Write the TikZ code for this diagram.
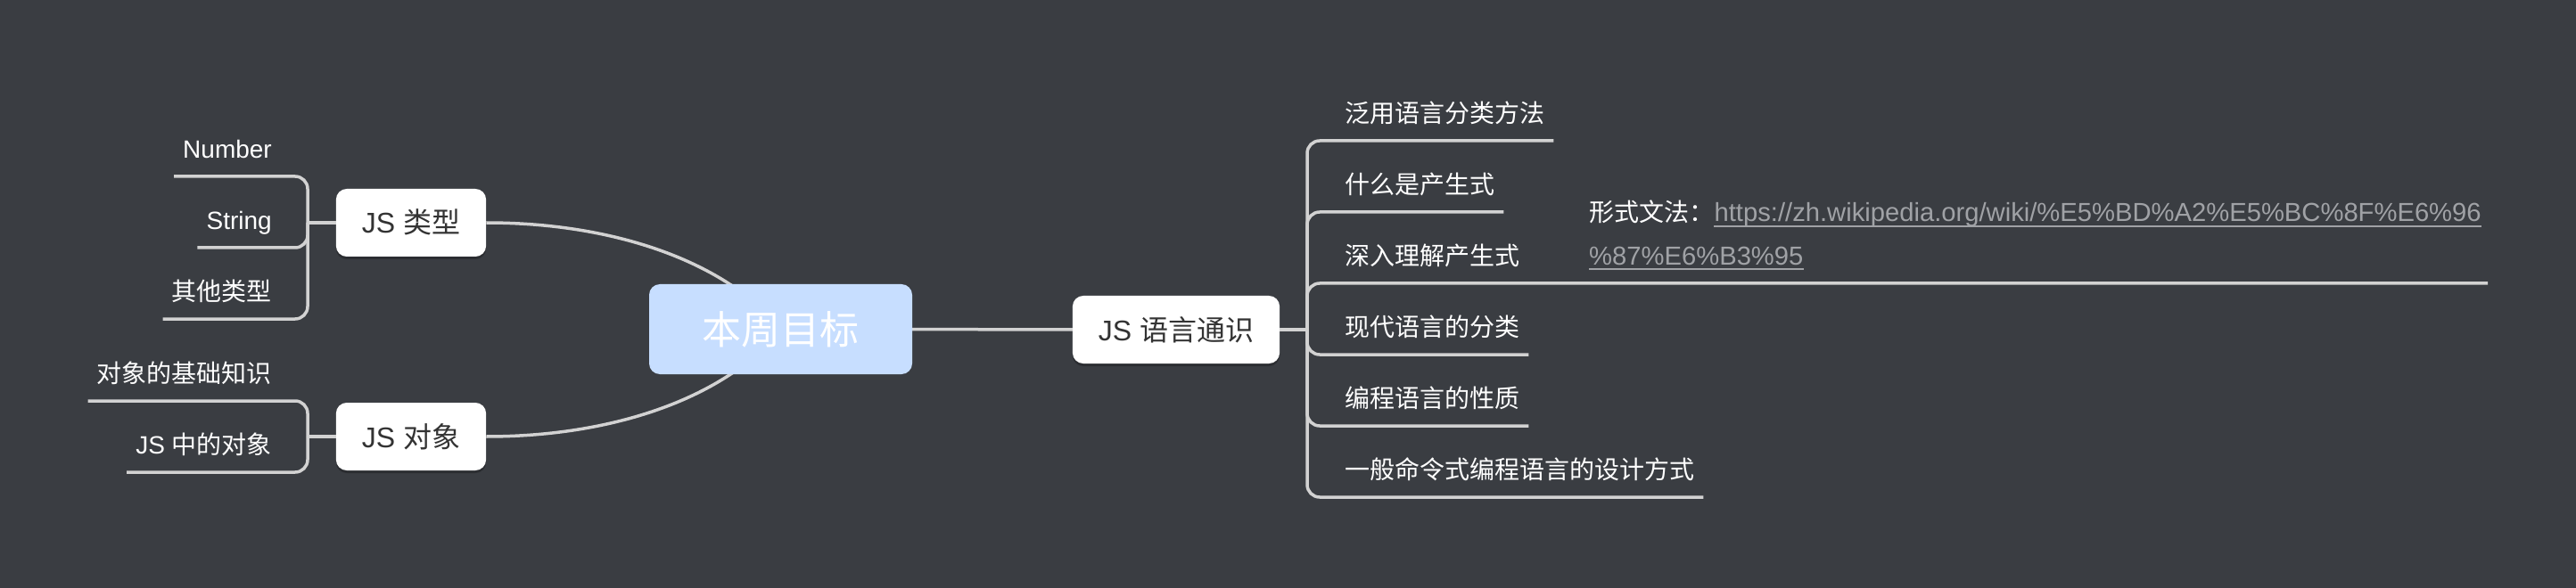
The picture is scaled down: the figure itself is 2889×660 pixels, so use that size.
\documentclass[tikz,border=0pt]{standalone}
\usepackage{fontspec}
\setmainfont{Liberation Sans}
\newfontfamily\cjk{Noto Sans CJK SC}
\usetikzlibrary{shadows}
\definecolor{bgc}{HTML}{3A3D42}
\definecolor{linec}{HTML}{D2D2D2}
\definecolor{rootc}{HTML}{C7DEFF}
\definecolor{boxtext}{HTML}{333333}
\definecolor{urlc}{HTML}{A0A2A6}
\pgfdeclarelayer{bglayer}
\pgfdeclarelayer{edgelayer}
\pgfsetlayers{bglayer,edgelayer,main}
\begin{document}
\begin{tikzpicture}[x=1pt,y=-1pt,
  conn/.style={draw=linec, line width=3.5pt},
  bracket/.style={conn, rounded corners=14pt},
  rootbox/.style={fill=rootc, rounded corners=12pt, minimum width=295pt, minimum height=101pt, inner sep=0pt, text=white, text height=33pt, text depth=0pt, font=\cjk\fontsize{44}{50}\selectfont},
  topicbox/.style={fill=white, rounded corners=12pt, minimum height=76pt, inner xsep=29pt, inner ysep=0pt, text=boxtext, text height=24pt, text depth=0pt, font=\fontsize{32}{38}\selectfont, drop shadow={shadow xshift=0pt, shadow yshift=-3pt, opacity=0.25, fill=black}},
  leaf/.style={inner xsep=10pt, inner ysep=0pt, text height=24pt, text depth=20pt, text=white, font=\fontsize{28}{34}\selectfont},
  notetext/.style={inner sep=0pt, text=white, font=\fontsize{28}{34}\selectfont},
  urltext/.style={inner sep=0pt, text=urlc, font=\fontsize{29.2}{34}\selectfont},
  urlline/.style={draw=urlc, line width=2.5pt}
]
\begin{pgfonlayer}{bglayer}
\fill[bgc] (0,0) rectangle (2889,660);
\end{pgfonlayer}
\useasboundingbox (0,0) rectangle (2889,660);

% main topics
\node[rootbox] (root) at (875.5,369.5) {本周目标};
\node[topicbox] (types) at (461,250) {JS {\cjk 类型}};
\node[topicbox] (objs) at (461,490) {JS {\cjk 对象}};
\node[topicbox] (lang) at (1319,370) {JS {\cjk 语言通识}};

% left leaves
\node[leaf, anchor=south east] (tNum) at (315,198) {Number};
\node[leaf, anchor=south east] (tStr) at (315,278) {String};
\node[leaf, anchor=south east] (tOth) at (315,358) {\cjk 其他类型};
\node[leaf, anchor=south east] (oBas) at (315,450) {\cjk 对象的基础知识};
\node[leaf, anchor=south east] (oIn) at (315,530) {JS {\cjk 中的对象}};

% right leaves
\node[leaf, anchor=south west] (l1) at (1498,158) {\cjk 泛用语言分类方法};
\node[leaf, anchor=south west] (l2) at (1498,238) {\cjk 什么是产生式};
\node[leaf, anchor=south west] (l3) at (1498,318) {\cjk 深入理解产生式};
\node[leaf, anchor=south west] (l4) at (1498,398) {\cjk 现代语言的分类};
\node[leaf, anchor=south west] (l5) at (1498,478) {\cjk 编程语言的性质};
\node[leaf, anchor=south west] (l6) at (1498,558) {\cjk 一般命令式编程语言的设计方式};

% note
\node[notetext, anchor=base west] (noteLabel) at (1782,249) {\cjk 形式文法：};
\node[urltext, anchor=base west] (url1) at (noteLabel.base east) {https://zh.wikipedia.org/wiki/\%E5\%BD\%A2\%E5\%BC\%8F\%E6\%96};
\node[urltext, anchor=base west] (url2) at (1782,298) {\%87\%E6\%B3\%95};
\draw[urlline] ([yshift=-5pt]url1.base west) -- ([yshift=-5pt]url1.base east);
\draw[urlline] ([yshift=-4pt]url2.base west) -- ([yshift=-4pt]url2.base east);

% junctions
\coordinate (jT) at (345,250);
\coordinate (jO) at (345,490);
\coordinate (jL) at (1466,370);
\coordinate (l3end) at (2790,318);

% edges behind boxes
\begin{pgfonlayer}{edgelayer}
\draw[conn] (types.east) .. controls (700,250) and (820,300) .. (root.center);
\draw[conn] (objs.east) .. controls (700,490) and (820,440) .. (root.center);
\draw[conn] (root.center) -- (lang.center);
\draw[conn] (types.center) -- (jT);
\draw[conn] (objs.center) -- (jO);
\draw[conn] (lang.center) -- (jL);
\end{pgfonlayer}

% brackets / underlines
\draw[bracket] (jT) |- (tNum.south west);
\draw[bracket] (jT) |- (tStr.south west);
\draw[bracket] (jT) |- (tOth.south west);
\draw[bracket] (jO) |- (oBas.south west);
\draw[bracket] (jO) |- (oIn.south west);
\draw[bracket] (jL) |- (l1.south east);
\draw[bracket] (jL) |- (l2.south east);
\draw[bracket] (jL) |- (l3end);
\draw[bracket] (jL) |- (l4.south east);
\draw[bracket] (jL) |- (l5.south east);
\draw[bracket] (jL) |- (l6.south east);
\end{tikzpicture}
\end{document}
